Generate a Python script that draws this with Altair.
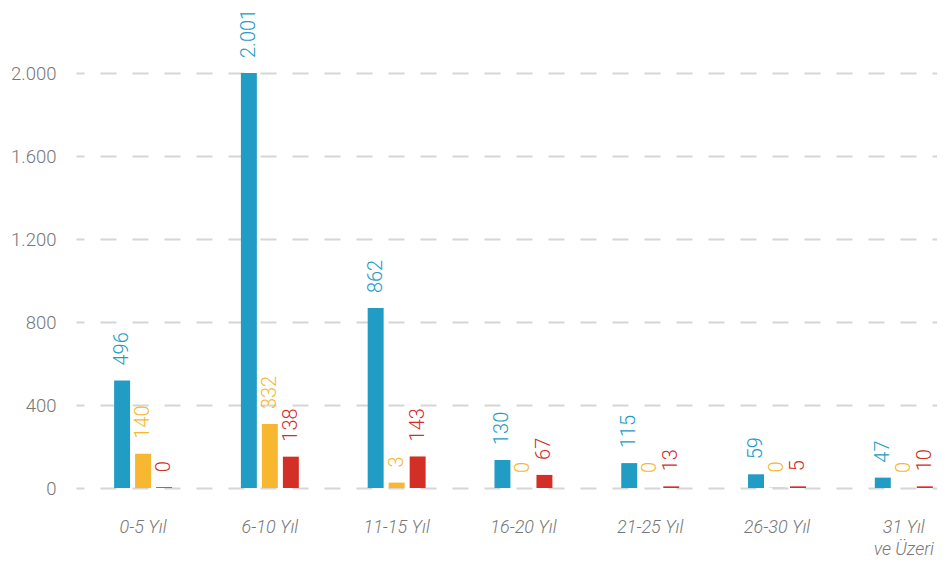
import altair as alt
import pandas as pd

categories = ["0-5 Yıl", "6-10 Yıl", "11-15 Yıl", "16-20 Yıl", "21-25 Yıl", "26-30 Yıl", "31 Yıl ve Üzeri"]
series = ["A", "B", "C"]
colors = ["#219cc4", "#f7b731", "#d32f27"]

# bar heights as drawn in the picture
blue_bar = [518, 2000, 867, 135, 120, 66, 50]
orange_bar = [165, 308, 26, 0, 0, 2, 0]
red_bar = [4, 151, 152, 63, 8, 8, 8]

# value labels printed above the bars
blue_label = [496, 2001, 862, 130, 115, 59, 47]
orange_label = [140, 332, 3, 0, 0, 0, 0]
red_label = [0, 138, 143, 67, 13, 5, 10]

y_ticks = [0, 400, 800, 1200, 1600, 2000]

rows = []
for s, bars, labels in zip(series, [blue_bar, orange_bar, red_bar], [blue_label, orange_label, red_label]):
    for c, b, l in zip(categories, bars, labels):
        rows.append({"cat": c, "series": s, "bar": b, "label": l})
df = pd.DataFrame(rows)

font = "Roboto"

x_enc = alt.X("cat:N", sort=categories,
              scale=alt.Scale(paddingInner=0.543, paddingOuter=0.167, align=0.9),
              axis=alt.Axis(title=None, domain=False, ticks=False, labelAngle=0,
                            labelPadding=30, labelFontSize=18, labelFontStyle="italic",
                            labelColor="#777777", labelFont=font, labelFontWeight=300,
                            labelLineHeight=22,
                            labelExpr="datum.label == '31 Yıl ve Üzeri' ? ['31 Yıl', 've Üzeri'] : datum.label"))
xo_enc = alt.XOffset("series:N", sort=series, scale=alt.Scale(paddingInner=0.24))
color_enc = alt.Color("series:N", sort=series, scale=alt.Scale(domain=series, range=colors), legend=None)

bars = alt.Chart(df).mark_bar().encode(
    x=x_enc,
    xOffset=xo_enc,
    y=alt.Y("bar:Q", scale=alt.Scale(domain=[0, 2000], nice=False),
            axis=alt.Axis(title=None, values=y_ticks, domain=False, ticks=False,
                          labelPadding=20, labelFontSize=18.5, labelColor="#777777",
                          labelFont=font, labelFontWeight=300,
                          labelExpr="replace(format(datum.value, ','), ',', '.')",
                          grid=True, gridDash=[16, 16], gridDashOffset=8,
                          gridColor="#d6d6d6", gridWidth=2)),
    color=color_enc,
)

texts = alt.Chart(df).transform_calculate(
    txt="replace(format(datum.label, ','), ',', '.')"
).mark_text(angle=270, align="left", baseline="middle", dx=15, fontSize=20,
            font=font, fontWeight=300).encode(
    x=x_enc,
    xOffset=xo_enc,
    y=alt.Y("bar:Q"),
    text="txt:N",
    color=color_enc,
)

chart = alt.layer(bars, texts).properties(
    width=861, height=415,
    padding={"left": 2, "top": 0, "right": 0, "bottom": 0},
).configure_view(stroke=None)

chart.save("out.html", embed_options={"renderer": "svg", "actions": False})
